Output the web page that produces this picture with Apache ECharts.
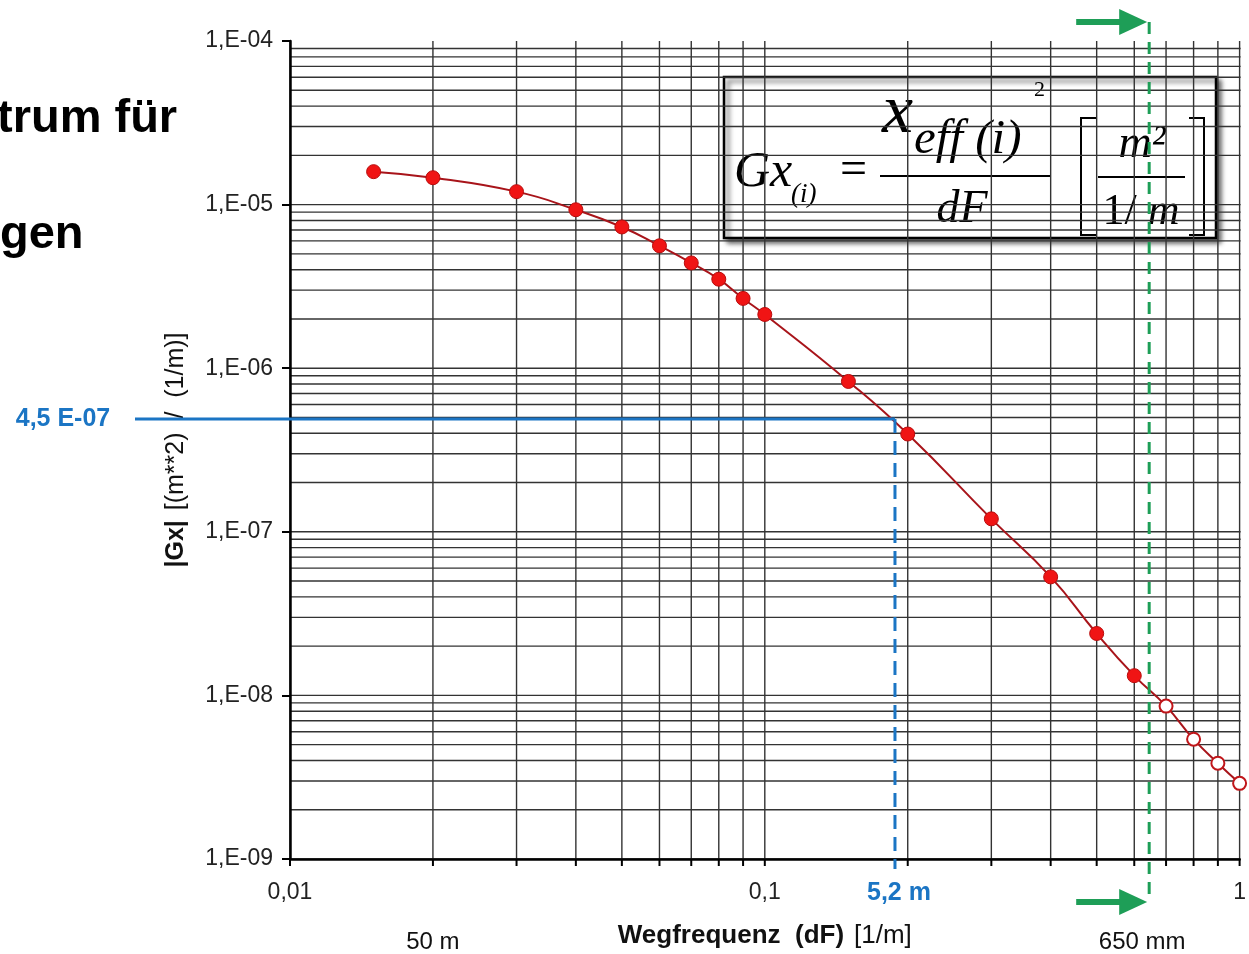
<!DOCTYPE html>
<html>
<head>
<meta charset="utf-8">
<script src="https://cdn.jsdelivr.net/npm/echarts@6/dist/echarts.min.js"></script>
<style>
html, body { margin: 0; padding: 0; background: #fff; }
#chart { width: 1249px; height: 954px; }
</style>
</head>
<body>
<div id="chart"></div>
<script>
// gemessene Werte (gefuellte Punkte)
const freqMeasured = [0.015, 0.02, 0.03, 0.04, 0.05, 0.06, 0.07, 0.08, 0.09, 0.1, 0.15, 0.2, 0.3, 0.4, 0.5, 0.6];
const gxMeasured = [1.59e-5, 1.46e-5, 1.2e-5, 9.3e-6, 7.3e-6, 5.6e-6, 4.4e-6, 3.5e-6, 2.67e-6, 2.13e-6, 8.3e-7, 3.96e-7, 1.2e-7, 5.3e-8, 2.39e-8, 1.32e-8];
// offene Punkte
const freqExtra = [0.7, 0.8, 0.9, 1.0];
const gxExtra = [8.6e-9, 5.4e-9, 3.85e-9, 2.9e-9];

// Markierungen
const markFreq = 0.188;      // 5,2 m
const markGx = 4.9e-7;       // 4,5 E-07
const markFreqLabel = '5,2 m';
const markGxLabel = '4,5 E-07';
const limitFreq = 0.645;     // 650 mm
const limitLabel = '650 mm';
const waveFreq = [0.02];
const waveLabel = ['50 m'];

// Gitterlinien 1..9 je Dekade
const mantissa = [1, 2, 3, 4, 5, 6, 7, 8, 9];
const gridFreq = [];
[-2, -1].forEach(e => mantissa.forEach(m => gridFreq.push(m * Math.pow(10, e))));
gridFreq.push(1);
const gridGx = [];
[-9, -8, -7, -6, -5].forEach(e => mantissa.forEach(m => gridGx.push(m * Math.pow(10, e))));

const blue = '#1b75c4';
const green = '#1e9e57';
const serif = '"Liberation Serif", "DejaVu Serif", serif';
const sans = '"Liberation Sans", Arial, sans-serif';

const chart = echarts.init(document.getElementById('chart'));

const option = {
  animation: false,
  backgroundColor: '#fff',
  grid: { left: 290, right: 1, top: 41, bottom: 94 },
  xAxis: {
    type: 'log', logBase: 10, min: 0.01, max: 1, z: 5,
    name: '{b|Wegfrequenz  (dF)}   {n|[1/m]}',
    nameLocation: 'middle', nameGap: 64,
    nameTextStyle: {
      rich: {
        b: { fontFamily: sans, fontSize: 26, fontWeight: 'bold', color: '#111' },
        n: { fontFamily: sans, fontSize: 26, color: '#111' }
      }
    },
    axisLine: { lineStyle: { color: '#000', width: 2.5 } },
    axisTick: { show: false },
    axisLabel: {
      margin: 22, fontFamily: sans, fontSize: 23, color: '#222',
      formatter: v => {
        const e = Math.round(Math.log10(v));
        return e < 0 ? '0,' + '0'.repeat(-e - 1) + '1' : '1';
      }
    },
    splitLine: { show: false }
  },
  yAxis: {
    type: 'log', logBase: 10, min: 1e-9, max: 1e-4, z: 5,
    name: '{b||Gx|}   {n|[(m**2)  /  (1/m)]}',
    nameLocation: 'middle', nameGap: 101, nameRotate: 90,
    nameTextStyle: {
      rich: {
        b: { fontFamily: sans, fontSize: 25, fontWeight: 'bold', color: '#111' },
        n: { fontFamily: sans, fontSize: 25, color: '#111' }
      }
    },
    axisLine: { lineStyle: { color: '#000', width: 2.5 } },
    axisTick: { show: true, length: 8, lineStyle: { color: '#000', width: 2 } },
    axisLabel: {
      margin: 17, fontFamily: sans, fontSize: 23, color: '#222',
      formatter: v => {
        const e = Math.round(Math.log10(v));
        return '1,E-' + String(-e).padStart(2, '0');
      }
    },
    splitLine: { show: false }
  },
  graphic: [
    { type: 'text', left: -3, top: 96, style: { text: 'trum für', font: 'bold 47px ' + sans, fill: '#000' } },
    { type: 'text', left: 0, top: 212, style: { text: 'gen', font: 'bold 47px ' + sans, fill: '#000' } },
    {
      type: 'group', z: 20,
      children: [
        { type: 'rect', shape: { x: 724, y: 77, width: 492, height: 161 },
          style: { fill: '#fff', stroke: '#000', lineWidth: 2.5, shadowBlur: 5, shadowOffsetX: 4, shadowOffsetY: 4, shadowColor: 'rgba(0,0,0,0.6)' } },
        { type: 'text', x: 734, y: 173, style: { text: 'Gx', font: 'italic 50px ' + serif, fill: '#000', verticalAlign: 'middle' } },
        { type: 'text', x: 791, y: 195, style: { text: '(i)', font: 'italic 27px ' + serif, fill: '#000', verticalAlign: 'middle' } },
        { type: 'text', x: 840, y: 171, style: { text: '=', font: '48px ' + serif, fill: '#000', verticalAlign: 'middle' } },
        { type: 'text', x: 882, y: 114, style: { text: 'x', font: 'italic 70px ' + serif, fill: '#000', verticalAlign: 'middle' } },
        { type: 'text', x: 914, y: 140, style: { text: 'eff (i)', font: 'italic 49px ' + serif, fill: '#000', verticalAlign: 'middle' } },
        { type: 'text', x: 1034, y: 90, style: { text: '2', font: '22px ' + serif, fill: '#000', verticalAlign: 'middle' } },
        { type: 'line', shape: { x1: 880, y1: 176, x2: 1050, y2: 176 }, style: { stroke: '#000', lineWidth: 2 } },
        { type: 'text', x: 962, y: 210, style: { text: 'dF', font: 'italic 46px ' + serif, fill: '#000', align: 'center', verticalAlign: 'middle' } },
        { type: 'polyline', shape: { points: [[1096, 118], [1081, 118], [1081, 235], [1096, 235]] }, style: { stroke: '#000', lineWidth: 2, fill: null } },
        { type: 'polyline', shape: { points: [[1189, 118], [1204, 118], [1204, 235], [1189, 235]] }, style: { stroke: '#000', lineWidth: 2, fill: null } },
        { type: 'text', x: 1142, y: 145, style: { text: 'm²', font: 'italic 46px ' + serif, fill: '#000', align: 'center', verticalAlign: 'middle' } },
        { type: 'line', shape: { x1: 1098, y1: 177, x2: 1185, y2: 177 }, style: { stroke: '#000', lineWidth: 2 } },
        { type: 'text', x: 1141, y: 212, style: {
            text: '{a|1/ }{b|m}', align: 'center', verticalAlign: 'middle',
            rich: { a: { font: '44px ' + serif, fill: '#000' }, b: { font: 'italic 44px ' + serif, fill: '#000' } } } }
      ]
    }
  ],
  series: [
    {
      // senkrechte Gitterlinien + kleine Striche
      type: 'custom', z: 1, silent: true, clip: false,
      data: gridFreq.map(v => [v, 1e-6]),
      renderItem: (params, api) => {
        const cs = params.coordSys;
        const x = api.coord([api.value(0), api.value(1)])[0];
        const bottom = cs.y + cs.height;
        return { type: 'group', children: [
          { type: 'line', shape: { x1: x, y1: cs.y, x2: x, y2: bottom }, style: { stroke: '#333', lineWidth: 1.4 } },
          { type: 'line', shape: { x1: x, y1: bottom, x2: x, y2: bottom + 7 }, style: { stroke: '#000', lineWidth: 2 } }
        ] };
      }
    },
    {
      // waagerechte Gitterlinien
      type: 'custom', z: 1, silent: true, clip: false,
      data: gridGx.map(v => [0.1, v]),
      renderItem: (params, api) => {
        const cs = params.coordSys;
        const y = api.coord([api.value(0), api.value(1)])[1];
        return { type: 'line', shape: { x1: cs.x, y1: y, x2: cs.x + cs.width + 1, y2: y }, style: { stroke: '#333', lineWidth: 1.4 } };
      }
    },
    {
      type: 'line', z: 3, smooth: 0.5, symbol: 'none', silent: true,
      data: freqMeasured.concat(freqExtra).map((f, i) => [f, gxMeasured.concat(gxExtra)[i]]),
      lineStyle: { color: '#a8141a', width: 2 }
    },
    {
      type: 'scatter', z: 4, symbolSize: 14,
      data: freqMeasured.map((f, i) => [f, gxMeasured[i]]),
      itemStyle: { color: '#f01414', borderColor: '#b80c0c', borderWidth: 1, opacity: 1 }
    },
    {
      type: 'scatter', z: 4, symbolSize: 13, clip: false,
      data: freqExtra.map((f, i) => [f, gxExtra[i]]),
      itemStyle: { color: '#fff', borderColor: '#c0161a', borderWidth: 2, opacity: 1 }
    },
    {
      // blaue Ablesung
      type: 'custom', z: 6, silent: true, clip: false,
      data: [[markFreq, markGx]],
      renderItem: (params, api) => {
        const cs = params.coordSys;
        const p = api.coord([api.value(0), api.value(1)]);
        const bottom = cs.y + cs.height;
        return { type: 'group', children: [
          { type: 'line', shape: { x1: cs.x - 155, y1: p[1], x2: p[0], y2: p[1] }, style: { stroke: blue, lineWidth: 3 } },
          { type: 'line', shape: { x1: p[0], y1: p[1], x2: p[0], y2: bottom + 10 }, style: { stroke: blue, lineWidth: 3, lineDash: [14, 8] } },
          { type: 'text', x: cs.x - 227, y: p[1], style: { text: markGxLabel, font: 'bold 25px ' + sans, fill: blue, align: 'center', verticalAlign: 'middle' } },
          { type: 'text', x: p[0] + 4, y: bottom + 34, style: { text: markFreqLabel, font: 'bold 25px ' + sans, fill: blue, align: 'center', verticalAlign: 'middle' } }
        ] };
      }
    },
    {
      // gruene Grenze
      type: 'custom', z: 6, silent: true, clip: false,
      data: [[limitFreq, 1e-6]],
      renderItem: (params, api) => {
        const cs = params.coordSys;
        const x = api.coord([api.value(0), api.value(1)])[0];
        const bottom = cs.y + cs.height;
        const yt = cs.y - 19, yb = bottom + 43;
        const arrow = y => [
          { type: 'line', shape: { x1: x - 73, y1: y, x2: x - 25, y2: y }, style: { stroke: green, lineWidth: 6 } },
          { type: 'polygon', shape: { points: [[x - 30, y - 13], [x - 2, y], [x - 30, y + 13]] }, style: { fill: green } }
        ];
        return { type: 'group', children: [
          { type: 'line', shape: { x1: x, y1: yt, x2: x, y2: yb }, style: { stroke: green, lineWidth: 3, lineDash: [12, 8] } }
        ].concat(arrow(yt), arrow(yb), [
          { type: 'text', x: x - 7, y: bottom + 83, style: { text: limitLabel, font: '24px ' + sans, fill: '#111', align: 'center', verticalAlign: 'middle' } }
        ]) };
      }
    },
    {
      // Wellenlaenge unter der Achse
      type: 'custom', z: 6, silent: true, clip: false,
      data: waveFreq.map((f, i) => [f, 1e-6, i]),
      renderItem: (params, api) => {
        const cs = params.coordSys;
        const x = api.coord([api.value(0), api.value(1)])[0];
        return { type: 'text', x: x, y: cs.y + cs.height + 83, style: { text: waveLabel[api.value(2)], font: '24px ' + sans, fill: '#111', align: 'center', verticalAlign: 'middle' } };
      }
    }
  ]
};

chart.setOption(option);
</script>
</body>
</html>
